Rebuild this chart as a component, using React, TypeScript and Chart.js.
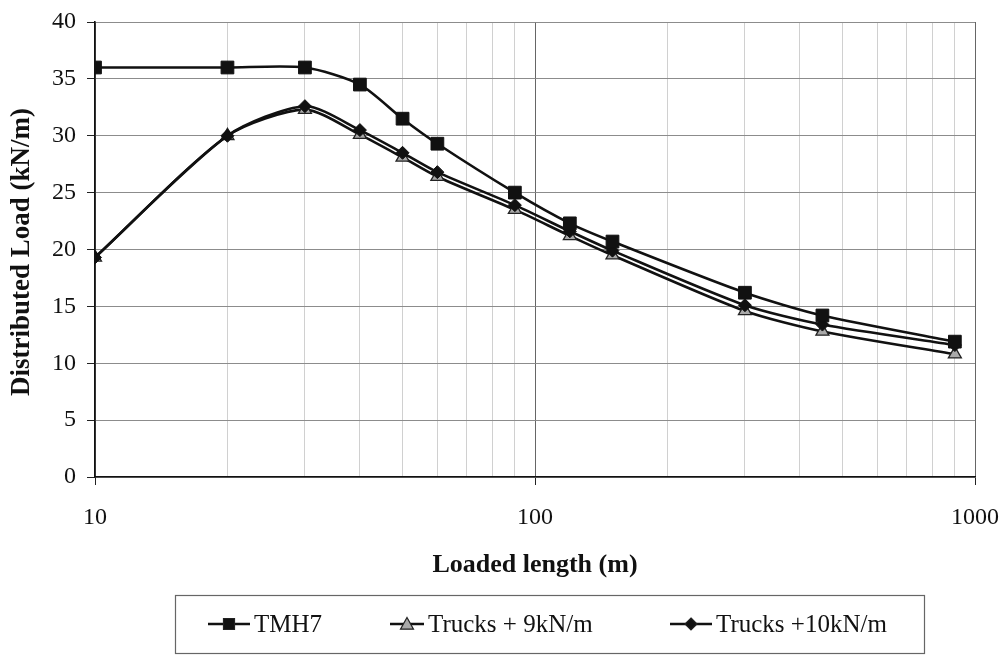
import { useEffect, useRef } from "react";
import { Chart, registerables } from "chart.js";

Chart.register(...registerables);

// Loaded length (m) at which each load model was evaluated
const loadedLengths = [10, 20, 30, 40, 50, 60, 90, 120, 150, 300, 450, 900];

// Equivalent distributed load (kN/m) per load model
const tmh7Loads = [36, 36, 36, 34.5, 31.5, 29.3, 25.0, 22.3, 20.7, 16.2, 14.2, 11.9];
const trucks9Loads = [19.3, 30, 32.3, 30.1, 28.1, 26.4, 23.5, 21.2, 19.5, 14.6, 12.8, 10.8];
const trucks10Loads = [19.3, 30, 32.6, 30.5, 28.5, 26.8, 23.9, 21.6, 19.9, 15.1, 13.4, 11.6];

const seriesNames = ["TMH7", "Trucks + 9kN/m", "Trucks +10kN/m"];

// Log axis: grid at every 1-9 multiple, labels only at the decades
const xGridValues = [10, 20, 30, 40, 50, 60, 70, 80, 90, 100, 200, 300, 400, 500, 600, 700, 800, 900, 1000];
const xLabelValues = [10, 100, 1000];

const yMin = 0;
const yMax = 40;
const yStep = 5;

const xTitle = "Loaded length (m)";
const yTitle = "Distributed Load (kN/m)";

const SERIF = "'Liberation Serif', 'Times New Roman', Times, serif";
const INK = "#111111";

type MarkerKind = "square" | "triangle" | "diamond";

function drawMarker(ctx: CanvasRenderingContext2D, kind: MarkerKind, x: number, y: number, size: number, fill: string, stroke: string) {
  ctx.save();
  ctx.fillStyle = fill;
  ctx.strokeStyle = stroke;
  ctx.lineWidth = 1.2;
  ctx.beginPath();
  const h = size / 2;
  if (kind === "square") {
    ctx.rect(x - h, y - h, size, size);
  } else if (kind === "triangle") {
    ctx.moveTo(x, y - h);
    ctx.lineTo(x + h, y + h * 0.8);
    ctx.lineTo(x - h, y + h * 0.8);
    ctx.closePath();
  } else {
    ctx.moveTo(x, y - h);
    ctx.lineTo(x + h, y);
    ctx.lineTo(x, y + h);
    ctx.lineTo(x - h, y);
    ctx.closePath();
  }
  ctx.fill();
  ctx.stroke();
  ctx.restore();
}

// Boxed legend under the plot plus the two axis titles
const decorationsPlugin = {
  id: "decorations",
  afterDraw(chart: Chart) {
    const ctx = chart.ctx;
    const area = chart.chartArea;
    ctx.save();

    // axis titles
    ctx.fillStyle = INK;
    ctx.textAlign = "center";
    ctx.textBaseline = "middle";
    ctx.font = `bold 26px ${SERIF}`;
    ctx.fillText(xTitle, (area.left + area.right) / 2, 565);
    ctx.save();
    ctx.font = `bold 27px ${SERIF}`;
    ctx.translate(22, 252);
    ctx.rotate(-Math.PI / 2);
    ctx.fillText(yTitle, 0, 0);
    ctx.restore();

    // legend frame
    const box = { x: 175, y: 595, w: 749, h: 58 };
    ctx.strokeStyle = "#666666";
    ctx.lineWidth = 1.2;
    ctx.strokeRect(box.x + 0.5, box.y + 0.5, box.w, box.h);

    const cy = box.y + 29;
    const entries: { x1: number; x2: number; tx: number; kind: MarkerKind; size: number; fill: string }[] = [
      { x1: 208, x2: 250, tx: 254, kind: "square", size: 11, fill: INK },
      { x1: 390, x2: 424, tx: 428, kind: "triangle", size: 13, fill: "#a9a9a9" },
      { x1: 670, x2: 712, tx: 716, kind: "diamond", size: 12, fill: INK },
    ];
    entries.forEach((e, i) => {
      ctx.strokeStyle = INK;
      ctx.lineWidth = 2.5;
      ctx.beginPath();
      ctx.moveTo(e.x1, cy);
      ctx.lineTo(e.x2, cy);
      ctx.stroke();
      drawMarker(ctx, e.kind, (e.x1 + e.x2) / 2, cy, e.size, e.fill, "#222222");
      ctx.fillStyle = INK;
      ctx.font = `25px ${SERIF}`;
      ctx.textAlign = "left";
      ctx.textBaseline = "middle";
      ctx.fillText(seriesNames[i], e.tx, cy + 1);
    });

    ctx.restore();
  },
};

export default function App() {
  const canvasRef = useRef<HTMLCanvasElement | null>(null);

  useEffect(() => {
    const canvas = canvasRef.current;
    if (!canvas) return;

    const toPoints = (ys: number[]) => loadedLengths.map((x, i) => ({ x, y: ys[i] }));

    const chart = new Chart(canvas, {
      type: "line",
      data: {
        datasets: [
          {
            label: seriesNames[0],
            data: toPoints(tmh7Loads),
            borderColor: INK,
            borderWidth: 2.6,
            pointStyle: "rect",
            pointRadius: 9,
            pointBackgroundColor: INK,
            pointBorderColor: INK,
            pointBorderWidth: 1,
            tension: 0.25,
            order: 0,
          },
          {
            label: seriesNames[1],
            data: toPoints(trucks9Loads),
            borderColor: INK,
            borderWidth: 2.6,
            pointStyle: "triangle",
            pointRadius: 7.5,
            pointBackgroundColor: "#a9a9a9",
            pointBorderColor: "#222222",
            pointBorderWidth: 1.3,
            tension: 0.25,
            order: 2,
          },
          {
            label: seriesNames[2],
            data: toPoints(trucks10Loads),
            borderColor: INK,
            borderWidth: 2.6,
            pointStyle: "rectRot",
            pointRadius: 6.5,
            pointBackgroundColor: INK,
            pointBorderColor: INK,
            pointBorderWidth: 1,
            tension: 0.25,
            order: 1,
          },
        ],
      },
      options: {
        responsive: false,
        animation: false,
        layout: { padding: { top: 22, right: 31, left: 0, bottom: 0 } },
        plugins: {
          legend: { display: false },
          tooltip: { enabled: false },
        },
        scales: {
          x: {
            type: "logarithmic",
            min: 10,
            max: 1000,
            afterBuildTicks: (scale: any) => {
              scale.ticks = xGridValues.map((v) => ({ value: v }));
            },
            afterFit: (scale: any) => {
              scale.height = 179;
              scale.paddingLeft = 0;
              scale.paddingRight = 0;
            },
            ticks: {
              autoSkip: false,
              maxRotation: 0,
              minRotation: 0,
              padding: 18,
              color: INK,
              font: { family: SERIF, size: 24 },
              callback: (value: any) => (xLabelValues.includes(Number(value)) ? String(value) : ""),
            },
            grid: {
              lineWidth: 1,
              tickLength: 8,
              color: (c: any) => (xLabelValues.includes(c.tick?.value) ? "#666666" : "#d0d0d0"),
              tickColor: (c: any) => (xLabelValues.includes(c.tick?.value) ? "#222222" : "rgba(0,0,0,0)"),
            },
            border: { color: INK, width: 1.6 },
          },
          y: {
            min: yMin,
            max: yMax,
            afterFit: (scale: any) => {
              scale.width = 95;
              scale.paddingTop = 0;
              scale.paddingBottom = 0;
            },
            ticks: {
              stepSize: yStep,
              padding: 11,
              color: INK,
              font: { family: SERIF, size: 24 },
            },
            grid: {
              lineWidth: 1,
              tickLength: 8,
              color: "#8c8c8c",
              tickColor: "#222222",
            },
            border: { color: INK, width: 1.6 },
          },
        },
      },
      plugins: [decorationsPlugin],
    });

    return () => chart.destroy();
  }, []);

  return (
    <div style={{ position: "absolute", left: 0, top: 0, width: 1006, height: 656, background: "#ffffff" }}>
      <canvas ref={canvasRef} width={1006} height={656} style={{ display: "block" }} />
    </div>
  );
}
